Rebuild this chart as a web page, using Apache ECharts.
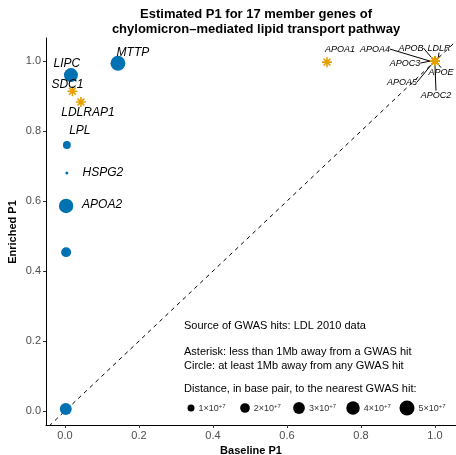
<!DOCTYPE html>
<html>
<head>
<meta charset="utf-8">
<script src="https://cdn.jsdelivr.net/npm/echarts@6/dist/echarts.min.js"></script>
<style>
  html, body { margin: 0; padding: 0; background: #fff; }
  #chart { width: 456px; height: 455px; }
</style>
</head>
<body>
<div id="chart"></div>
<script>
// circles: at least 1Mb away from any GWAS hit
const circleGenes = ['MTTP', 'LIPC', 'LPL', 'HSPG2', 'APOA2', '', '']
const circleBaseline = [0.143, 0.016, 0.005, 0.005, 0.003, 0.003, 0.002]
const circleEnriched = [0.994, 0.960, 0.760, 0.680, 0.586, 0.454, 0.006]
const circleDistance = [4.9e7, 4.3e7, 1.3e7, 0.15e7, 4.6e7, 2.1e7, 3.1e7]

// asterisks: less than 1Mb away from a GWAS hit
const starGenes = ['SDC1', 'LDLRAP1', 'APOA1', 'APOA4', 'APOB', 'LDLR', 'APOC3', 'APOE', 'APOA5', 'APOC2']
const starBaseline = [0.020, 0.043, 0.708, 1, 1, 1, 1, 1, 1, 1]
const starEnriched = [0.914, 0.883, 0.997, 1, 1, 1, 1, 1, 1, 1]

const xTicks = [0, 0.2, 0.4, 0.6, 0.8, 1.0]
const yTicks = [0, 0.2, 0.4, 0.6, 0.8, 1.0]
const legendDistances = [1e7, 2e7, 3e7, 4e7, 5e7]

// label nudges (px) as ggrepel placed them
const circleLabelOffsets = [[15, -11], [-4, -11], [13, -14], [36, 0], [36, -1], [0, 0], [0, 0]]
const starLabelOffsets = [[-5, -7], [7, 11], [13, -13], [-60, -12], [-24, -13], [4, -13], [-30, 2], [6, 11], [-33, 21], [1, 34]]
const starLabelSmall = [false, false, true, true, true, true, true, true, true, true]
const starLabelLine = [false, false, false, true, true, true, true, true, true, true]

const BLUE = '#0072B2'
const ORANGE = '#E69F00'
const FONT = '"Liberation Sans", Arial, sans-serif'

const sizeOf = (v) => 0.5 + 6.5 * Math.sqrt(v / 1e7)

const asterisk = 'path://M5 0L5 10M0 5L10 5M1.6 1.6L8.4 8.4M1.6 8.4L8.4 1.6'

const chart = echarts.init(document.getElementById('chart'))

const circleData = circleGenes.map((g, i) => ({
  name: g,
  value: [circleBaseline[i], circleEnriched[i], circleDistance[i]],
}))

const starData = starGenes.map((g, i) => ({
  name: g,
  value: [starBaseline[i], starEnriched[i]],
  label: { fontSize: starLabelSmall[i] ? 9 : 12 },
  labelLine: { show: starLabelLine[i] },
}))

const legendGraphics = []
legendDistances.forEach((d, i) => {
  const cx = 191 + i * 54
  const r = sizeOf(d) / 2
  legendGraphics.push({
    type: 'circle',
    shape: { cx: cx, cy: 408, r: r },
    style: { fill: '#000' },
  })
  legendGraphics.push({
    type: 'text',
    x: cx + r + 4,
    y: 409,
    style: {
      text: '{a|' + (d / 1e7) + '\u00d710}{s|+7}',
      verticalAlign: 'middle',
      rich: {
        a: { fontSize: 9, fill: '#333', fontFamily: FONT },
        s: { fontSize: 6, fill: '#333', fontFamily: FONT, verticalAlign: 'top', padding: [0, 0, 5, 0] },
      },
    },
  })
})

const noteStyle = { fontSize: 11, fill: '#000', fontFamily: FONT, verticalAlign: 'middle' }

const labelBase = {
  show: true,
  position: ['50%', '50%'],
  align: 'center',
  verticalAlign: 'middle',
  formatter: (p) => p.name,
  fontStyle: 'italic',
  color: '#000',
  textBorderWidth: 0,
  fontFamily: FONT,
}

const option = {
  animation: false,
  title: {
    text: 'Estimated P1 for 17 member genes of\nchylomicron\u2013mediated lipid transport pathway',
    left: 251,
    top: 2,
    textAlign: 'center',
    textStyle: { fontSize: 13, fontWeight: 'bold', color: '#000', fontFamily: FONT, lineHeight: 15 },
  },
  grid: { left: 46, right: 0, top: 38, bottom: 30, outerBoundsMode: 'none', containLabel: false },
  xAxis: {
    type: 'value',
    min: -0.0514,
    max: 1.0568,
    name: 'Baseline P1',
    nameLocation: 'middle',
    nameGap: 20,
    nameTextStyle: { fontSize: 11, fontWeight: 'bold', color: '#000', fontFamily: FONT },
    axisLine: { onZero: false, lineStyle: { color: '#000', width: 1 } },
    axisTick: { customValues: xTicks, length: 3, lineStyle: { color: '#333' } },
    axisLabel: {
      customValues: xTicks,
      margin: 5,
      fontSize: 11,
      color: '#4d4d4d',
      fontFamily: FONT,
      formatter: (v) => v.toFixed(1),
    },
    splitLine: { show: false },
  },
  yAxis: {
    type: 'value',
    min: -0.04,
    max: 1.066,
    axisLine: { show: true, onZero: false, lineStyle: { color: '#000', width: 1 } },
    axisTick: { show: true, customValues: yTicks, length: 3, lineStyle: { color: '#333' } },
    axisLabel: {
      customValues: yTicks,
      margin: 5,
      fontSize: 11,
      color: '#4d4d4d',
      fontFamily: FONT,
      formatter: (v) => v.toFixed(1),
    },
    splitLine: { show: false },
  },
  graphic: [
    {
      type: 'text',
      x: 13,
      y: 232,
      rotation: Math.PI / 2,
      style: {
        text: 'Enriched P1',
        fontSize: 11,
        fontWeight: 'bold',
        fill: '#000',
        fontFamily: FONT,
        align: 'center',
        verticalAlign: 'middle',
      },
    },
    { type: 'text', left: 184, top: 320, style: Object.assign({ text: 'Source of GWAS hits: LDL 2010 data' }, noteStyle) },
    { type: 'text', left: 184, top: 346, style: Object.assign({ text: 'Asterisk: less than 1Mb away from a GWAS hit' }, noteStyle) },
    { type: 'text', left: 184, top: 360, style: Object.assign({ text: 'Circle: at least 1Mb away from any GWAS hit' }, noteStyle) },
    { type: 'text', left: 184, top: 383, style: Object.assign({ text: 'Distance, in base pair, to the nearest GWAS hit:' }, noteStyle) },
    ...legendGraphics,
  ],
  series: [
    {
      type: 'line',
      data: [[-0.2, -0.2], [1.2, 1.2]],
      symbol: 'none',
      silent: true,
      lineStyle: { color: '#000', width: 1, type: [4, 4] },
      z: 1,
    },
    {
      type: 'scatter',
      data: circleData,
      symbol: 'circle',
      symbolSize: (v) => sizeOf(v[2]),
      itemStyle: { color: BLUE, opacity: 1 },
      label: Object.assign({ fontSize: 12 }, labelBase),
      labelLayout: (p) => ({ dx: circleLabelOffsets[p.dataIndex][0], dy: circleLabelOffsets[p.dataIndex][1] }),
      emphasis: { disabled: true },
      z: 3,
    },
    {
      type: 'scatter',
      data: starData,
      symbol: asterisk,
      symbolSize: 10,
      itemStyle: { color: ORANGE, borderColor: ORANGE, borderWidth: 1.6, opacity: 1 },
      label: labelBase,
      labelLine: { lineStyle: { color: '#000', width: 1 } },
      labelLayout: (p) => ({ dx: starLabelOffsets[p.dataIndex][0], dy: starLabelOffsets[p.dataIndex][1] }),
      emphasis: { disabled: true },
      z: 4,
    },
  ],
}

chart.setOption(option)
</script>
</body>
</html>
